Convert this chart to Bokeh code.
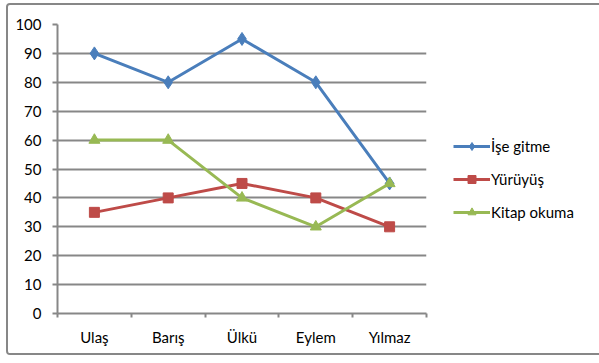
from bokeh.plotting import figure
from bokeh.models import FixedTicker, Range1d, Legend, LegendItem
from bokeh.embed import file_html
from bokeh.resources import INLINE

categories = ["Ulaş", "Barış", "Ülkü", "Eylem", "Yılmaz"]
ise_gitme = [90, 80, 95, 80, 45]
yuruyus = [35, 40, 45, 40, 30]
kitap_okuma = [60, 60, 40, 30, 45]
y_ticks = list(range(0, 101, 10))

FONT = "Lato"
GRAY = "#878787"

xs = [i + 0.5 for i in range(len(categories))]

p = figure(frame_width=369, frame_height=289, output_backend="svg", toolbar_location=None,
           x_range=Range1d(0, len(categories)), y_range=Range1d(0, 100))
p.margin = (3, 0, 0, 6)
p.styles = {"border": "2px solid #878787", "border-radius": "4px"}
p.min_border_left = 49
p.min_border_top = 19
p.min_border_bottom = 40
p.min_border_right = 166
p.outline_line_color = None
p.background_fill_color = "white"
p.border_fill_color = "white"

# x axis: labels at category centers, tick marks at boundaries
xt = FixedTicker(ticks=xs, minor_ticks=list(range(len(categories) + 1)))
p.xaxis.ticker = xt
p.xaxis.major_label_overrides = {x: c for x, c in zip(xs, categories)}
p.xaxis.major_tick_line_color = None
p.xaxis.minor_tick_line_color = GRAY
p.xaxis.minor_tick_line_width = 2
p.xaxis.minor_tick_in = 0
p.xaxis.minor_tick_out = 4
p.xaxis.axis_line_color = GRAY
p.xaxis.axis_line_width = 2
p.xaxis.major_label_standoff = 8
p.xgrid.grid_line_color = None

p.yaxis.ticker = FixedTicker(ticks=y_ticks, minor_ticks=[])
p.yaxis.major_tick_line_color = GRAY
p.yaxis.major_tick_line_width = 2
p.yaxis.major_tick_in = 0
p.yaxis.major_tick_out = 5
p.yaxis.axis_line_color = GRAY
p.yaxis.axis_line_width = 2
p.yaxis.major_label_standoff = 11
p.ygrid.ticker = FixedTicker(ticks=y_ticks)
p.ygrid.grid_line_color = GRAY
p.ygrid.grid_line_width = 2

for ax in (p.xaxis[0], p.yaxis[0]):
    ax.major_label_text_font = FONT
    ax.major_label_text_font_size = "15px"
    ax.major_label_text_color = "black"

BLUE = "#4A7EBB"
RED = "#BE4B48"
GREEN = "#98B954"

l1 = p.line(xs, ise_gitme, line_color=BLUE, line_width=3)
m1 = p.scatter(xs, ise_gitme, marker="diamond", size=13, fill_color=BLUE, line_color=BLUE)
l2 = p.line(xs, yuruyus, line_color=RED, line_width=3)
m2 = p.scatter(xs, yuruyus, marker="square", size=10, fill_color=RED, line_color=RED)
l3 = p.line(xs, kitap_okuma, line_color=GREEN, line_width=3)
m3 = p.scatter(xs, kitap_okuma, marker="triangle", size=11, fill_color=GREEN, line_color=GREEN)

legend = Legend(items=[
    LegendItem(label="İşe gitme", renderers=[l1, m1]),
    LegendItem(label="Yürüyüş", renderers=[l2, m2]),
    LegendItem(label="Kitap okuma", renderers=[l3, m3]),
], location=(27, 91))
legend.border_line_color = None
legend.background_fill_alpha = 0
legend.label_text_font = FONT
legend.label_text_font_size = "15px"
legend.label_text_color = "black"
legend.glyph_width = 37
legend.glyph_height = 20
legend.spacing = 13
legend.label_standoff = 1
legend.margin = 0
legend.padding = 0
p.add_layout(legend, "right")

open("out.html", "w").write(file_html(p, INLINE))
